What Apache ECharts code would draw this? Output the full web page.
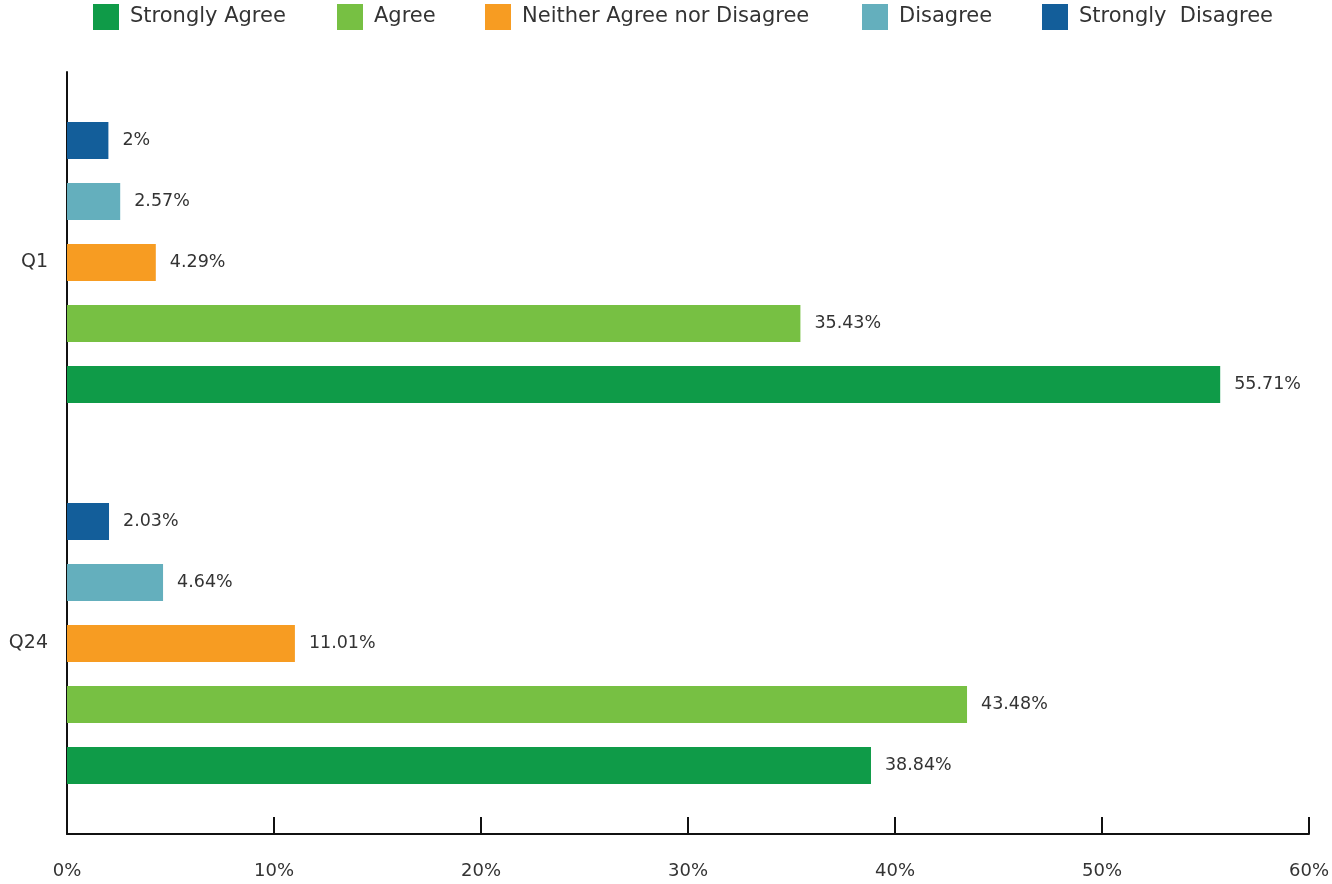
<!DOCTYPE html>
<html>
<head>
<meta charset="utf-8">
<script src="https://cdn.jsdelivr.net/npm/echarts@6/dist/echarts.min.js"></script>
<style>
  html, body { margin: 0; padding: 0; background: #fff; }
  #chart { width: 1332px; height: 884px; }
</style>
</head>
<body>
<div id="chart"></div>
<script>
// Survey questions (bottom to top on the category axis)
const questions = ['Q24', 'Q1'];

// Response shares in percent, per question in the order above
const stronglyAgree = [38.84, 55.71];
const agree = [43.48, 35.43];
const neither = [11.01, 4.29];
const disagree = [4.64, 2.57];
const stronglyDisagree = [2.03, 2];

const xTicks = { min: 0, max: 60, interval: 10 };

const FONT = 'DejaVu Sans';
const TEXT = '#333333';

const responses = [
  { name: 'Strongly Agree', data: stronglyAgree, color: '#0F9B48' },
  { name: 'Agree', data: agree, color: '#77C043' },
  { name: 'Neither Agree nor Disagree', data: neither, color: '#F79C22' },
  { name: 'Disagree', data: disagree, color: '#64AFBD' },
  { name: 'Strongly  Disagree', data: stronglyDisagree, color: '#135E9A' }
];

// Left edge of each legend entry along the top row
const legendLeft = [93, 337, 485, 862, 1042];

// Bars inside a group are laid out top-down in series order, so list the
// series from "Strongly Disagree" down to "Strongly Agree".
const barOrder = responses.slice().reverse();

const chart = echarts.init(document.getElementById('chart'));

chart.setOption({
  animation: false,
  textStyle: { fontFamily: FONT },
  legend: responses.map((r, i) => ({
    top: 4,
    left: legendLeft[i],
    padding: 0,
    icon: 'rect',
    itemWidth: 26,
    itemHeight: 26,
    textStyle: { fontSize: 21, color: TEXT, fontFamily: FONT, padding: [0, 0, 0, 6] },
    data: [r.name]
  })),
  grid: { left: 67, right: 22, top: 72, bottom: 50, containLabel: false },
  xAxis: {
    type: 'value',
    min: xTicks.min,
    max: xTicks.max,
    interval: xTicks.interval,
    axisLine: { show: true, lineStyle: { color: '#111', width: 2 } },
    axisTick: { show: true, inside: true, length: 17, lineStyle: { color: '#111', width: 2 } },
    splitLine: { show: false },
    axisLabel: { formatter: '{value}%', fontSize: 18, color: TEXT, margin: 28, fontFamily: FONT }
  },
  yAxis: {
    type: 'category',
    data: questions,
    axisLine: { show: true, lineStyle: { color: '#111', width: 2 } },
    axisTick: { show: false },
    axisLabel: { fontSize: 19, color: TEXT, margin: 19, fontFamily: FONT }
  },
  series: barOrder.map(r => ({
    name: r.name,
    type: 'bar',
    data: r.data,
    barWidth: 37,
    barGap: '65%',
    itemStyle: { color: r.color },
    label: {
      show: true,
      position: 'right',
      distance: 14,
      formatter: '{c}%',
      fontSize: 17.5,
      color: TEXT,
      fontFamily: FONT
    }
  }))
});
</script>
</body>
</html>
